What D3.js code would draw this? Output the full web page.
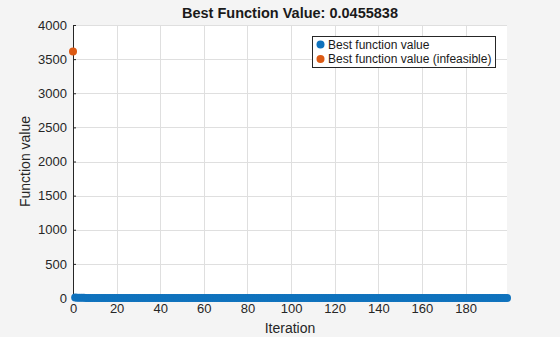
<!DOCTYPE html>
<html>
<head>
<meta charset="utf-8">
<script src="https://cdn.jsdelivr.net/npm/d3@7"></script>
<style>
  html, body { margin: 0; padding: 0; background: #f4f4f4; }
  svg { display: block; font-family: Arial, Helvetica, sans-serif; }
</style>
</head>
<body>
<svg id="chart" width="560" height="337"></svg>
<script>
// best feasible value per iteration (iterations 1..199)
var bestValues = [
    8.6, 5.3, 3.82, 2.65, 1.93, 1.47, 1.12, 0.88, 0.74, 0.62,
    0.53, 0.46, 0.40, 0.35, 0.31, 0.28, 0.25, 0.23, 0.21, 0.19,
    0.17, 0.16, 0.15, 0.14, 0.13, 0.12, 0.115, 0.11, 0.104, 0.098,
    0.093, 0.089, 0.085, 0.081, 0.078, 0.075, 0.072, 0.069, 0.067, 0.065,
    0.063, 0.061, 0.060, 0.058, 0.057, 0.056, 0.055, 0.054, 0.053, 0.052,
    0.0515, 0.0510, 0.0505, 0.0500, 0.0496, 0.0492, 0.0489, 0.0486, 0.0483, 0.0480,
    0.0478, 0.0476, 0.0474, 0.0472, 0.0470, 0.0469, 0.0468, 0.0467, 0.0466, 0.0465,
    0.0464, 0.0463, 0.0462, 0.0462, 0.0461, 0.0461, 0.0460, 0.0460, 0.0459, 0.0459,
    0.0458, 0.0458, 0.0458, 0.0457, 0.0457, 0.0457, 0.0457, 0.0456, 0.0456, 0.0456,
    0.0456, 0.0456, 0.0456, 0.0456, 0.0456, 0.0456, 0.0456, 0.0456, 0.0456, 0.0456,
    0.0455838, 0.0455838, 0.0455838, 0.0455838, 0.0455838, 0.0455838, 0.0455838, 0.0455838, 0.0455838, 0.0455838,
    0.0455838, 0.0455838, 0.0455838, 0.0455838, 0.0455838, 0.0455838, 0.0455838, 0.0455838, 0.0455838, 0.0455838,
    0.0455838, 0.0455838, 0.0455838, 0.0455838, 0.0455838, 0.0455838, 0.0455838, 0.0455838, 0.0455838, 0.0455838,
    0.0455838, 0.0455838, 0.0455838, 0.0455838, 0.0455838, 0.0455838, 0.0455838, 0.0455838, 0.0455838, 0.0455838,
    0.0455838, 0.0455838, 0.0455838, 0.0455838, 0.0455838, 0.0455838, 0.0455838, 0.0455838, 0.0455838, 0.0455838,
    0.0455838, 0.0455838, 0.0455838, 0.0455838, 0.0455838, 0.0455838, 0.0455838, 0.0455838, 0.0455838, 0.0455838,
    0.0455838, 0.0455838, 0.0455838, 0.0455838, 0.0455838, 0.0455838, 0.0455838, 0.0455838, 0.0455838, 0.0455838,
    0.0455838, 0.0455838, 0.0455838, 0.0455838, 0.0455838, 0.0455838, 0.0455838, 0.0455838, 0.0455838, 0.0455838,
    0.0455838, 0.0455838, 0.0455838, 0.0455838, 0.0455838, 0.0455838, 0.0455838, 0.0455838, 0.0455838, 0.0455838,
    0.0455838, 0.0455838, 0.0455838, 0.0455838, 0.0455838, 0.0455838, 0.0455838, 0.0455838, 0.0455838
];
var bestIters = bestValues.map(function(v, i) { return i + 1; });

var infeasIters = [0];
var infeasValues = [3610];

var xTicks = [0, 20, 40, 60, 80, 100, 120, 140, 160, 180];
var yTicks = [0, 500, 1000, 1500, 2000, 2500, 3000, 3500, 4000];

var titleText = 'Best Function Value: 0.0455838';
var legendLabels = ['Best function value', 'Best function value (infeasible)'];
var colors = ['#0f72bd', '#dc5a14'];

var W = 560, H = 337;
var m = { left: 73, right: 53, top: 25, bottom: 39 };
var FONT = 'Arial, Helvetica, sans-serif';

var svg = d3.select('#chart');

var x = d3.scaleLinear().domain([0, 199]).range([m.left, W - m.right]);
var y = d3.scaleLinear().domain([0, 4000]).range([H - m.bottom, m.top]);

// plot background
svg.append('rect')
    .attr('x', x(0)).attr('y', y(4000))
    .attr('width', x(199) - x(0)).attr('height', y(0) - y(4000))
    .attr('fill', '#fff');

// grid
var grid = svg.append('g').attr('stroke', '#dfdfdf').attr('stroke-width', 1);
grid.selectAll('line.gx').data(xTicks.slice(1)).enter().append('line')
    .attr('x1', function(d) { return Math.round(x(d)) + 0.5; })
    .attr('x2', function(d) { return Math.round(x(d)) + 0.5; })
    .attr('y1', y(4000)).attr('y2', y(0));
grid.selectAll('line.gy').data(yTicks.slice(1)).enter().append('line')
    .attr('y1', function(d) { return Math.round(y(d)) + 0.5; })
    .attr('y2', function(d) { return Math.round(y(d)) + 0.5; })
    .attr('x1', x(0)).attr('x2', x(199));

// axes
var xAxis = d3.axisBottom(x).tickValues(xTicks).tickFormat(d3.format('d'))
    .tickSizeInner(-3).tickSizeOuter(0).tickPadding(6);
var yAxis = d3.axisLeft(y).tickValues(yTicks).tickFormat(d3.format('d'))
    .tickSizeInner(-3).tickSizeOuter(0).tickPadding(6);

var gx = svg.append('g')
    .attr('transform', 'translate(0,' + y(0) + ')')
    .call(xAxis);
var gy = svg.append('g')
    .attr('transform', 'translate(' + x(0) + ',0)')
    .call(yAxis);

[gx, gy].forEach(function(g) {
    g.attr('font-family', FONT).attr('font-size', 13);
    g.select('.domain').attr('stroke', '#262626');
    g.selectAll('.tick line').attr('stroke', '#262626');
    g.selectAll('.tick text').attr('fill', '#262626');
});

// points
svg.append('g').selectAll('circle')
    .data(bestIters)
    .enter().append('circle')
        .attr('cx', function(d) { return x(d); })
        .attr('cy', function(d, i) { return y(bestValues[i]); })
        .attr('r', 4)
        .attr('fill', colors[0]);

svg.append('g').selectAll('circle')
    .data(infeasIters)
    .enter().append('circle')
        .attr('cx', function(d) { return x(d); })
        .attr('cy', function(d, i) { return y(infeasValues[i]); })
        .attr('r', 4)
        .attr('fill', colors[1]);

// title + labels
svg.append('text')
    .attr('x', (x(0) + x(199)) / 2).attr('y', 18)
    .attr('text-anchor', 'middle')
    .attr('fill', '#1a1a1a')
    .attr('font-family', FONT).attr('font-size', 14.5).attr('font-weight', 'bold')
    .text(titleText);

svg.append('text')
    .attr('x', (x(0) + x(199)) / 2).attr('y', 333)
    .attr('text-anchor', 'middle')
    .attr('fill', '#262626')
    .attr('font-family', FONT).attr('font-size', 14)
    .text('Iteration');

svg.append('text')
    .attr('transform', 'translate(30,' + (y(0) + y(4000)) / 2 + ') rotate(-90)')
    .attr('text-anchor', 'middle')
    .attr('fill', '#262626')
    .attr('font-family', FONT).attr('font-size', 14)
    .text('Function value');

// legend
var lg = svg.append('g').attr('transform', 'translate(312,36)');
lg.append('rect')
    .attr('x', 0.5).attr('y', 0.5).attr('width', 183).attr('height', 31)
    .attr('fill', '#fff').attr('stroke', '#262626').attr('stroke-width', 1);
var items = lg.selectAll('g.item').data(legendLabels).enter().append('g')
    .attr('transform', function(d, i) { return 'translate(0,' + (8.5 + i * 14.5) + ')'; });
items.append('circle').attr('cx', 8.5).attr('cy', 0).attr('r', 4)
    .attr('fill', function(d, i) { return colors[i]; });
items.append('text').attr('x', 16).attr('y', 4.3)
    .attr('fill', '#1a1a1a')
    .attr('font-family', FONT).attr('font-size', 12)
    .text(function(d) { return d; });
</script>
</body>
</html>
